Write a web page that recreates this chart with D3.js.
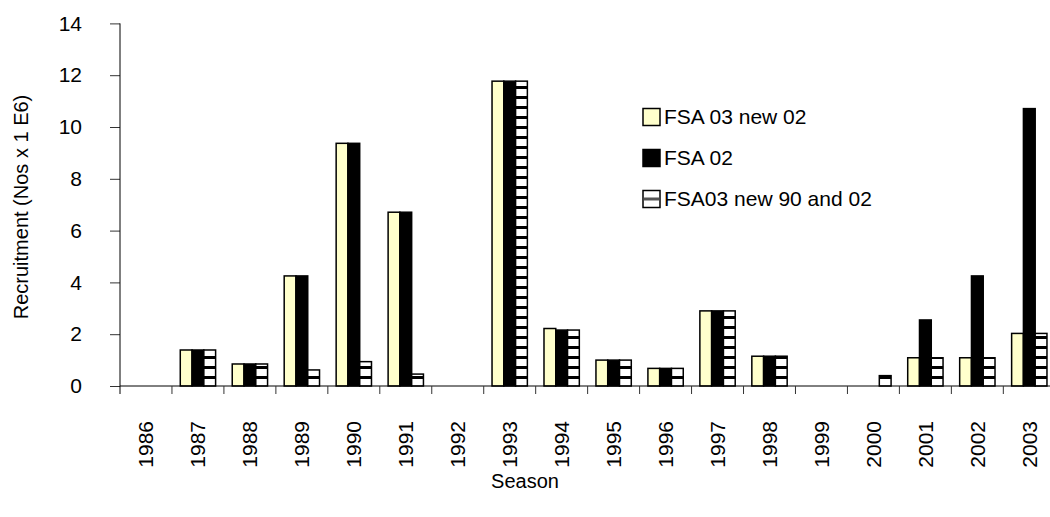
<!DOCTYPE html>
<html>
<head>
<meta charset="utf-8">
<script src="https://cdn.jsdelivr.net/npm/d3@7/dist/d3.min.js"></script>
<style>
  body { margin: 0; background: #fff; }
  text { font-family: "Liberation Sans", Arial, sans-serif; fill: #000; }
</style>
</head>
<body>
<script>
var seasons = ['1986', '1987', '1988', '1989', '1990', '1991', '1992', '1993', '1994',
  '1995', '1996', '1997', '1998', '1999', '2000', '2001', '2002', '2003']
var seriesNames = ['FSA 03 new 02', 'FSA 02', 'FSA03 new 90 and 02']
var fsa03new02 = [0, 1.39, 0.85, 4.25, 9.37, 6.71, 0, 11.77, 2.22, 1.0, 0.68, 2.9, 1.15, 0, 0, 1.09, 1.09, 2.03]
var fsa02 = [0, 1.39, 0.85, 4.25, 9.37, 6.71, 0, 11.77, 2.16, 1.0, 0.68, 2.9, 1.15, 0, 0, 2.55, 4.25, 10.71]
var fsa03new9002 = [0, 1.39, 0.85, 0.62, 0.94, 0.46, 0, 11.77, 2.16, 1.0, 0.68, 2.9, 1.15, 0, 0.40, 1.09, 1.09, 2.03]
var yTicks = [0, 2, 4, 6, 8, 10, 12, 14]

var width = 1050
var height = 517
var plotLeft = 120
var plotBottom = 386
var plotTop = 23.4
var bandW = 51.96

var svg = d3.select('body').append('svg')
  .attr('width', width)
  .attr('height', height)

var defs = svg.append('defs')
var pat = defs.append('pattern')
  .attr('id', 'hstripe')
  .attr('patternUnits', 'userSpaceOnUse')
  .attr('width', 10).attr('height', 10)
  .attr('y', plotBottom)
pat.append('rect').attr('width', 10).attr('height', 10).attr('fill', '#fff')
pat.append('rect').attr('y', 0).attr('width', 10).attr('height', 3).attr('fill', '#000')

var fills = ['#ffffcc', '#000', 'url(#hstripe)']

var x = d3.scaleBand().domain(seasons).range([plotLeft, plotLeft + bandW * seasons.length])
var gap = bandW * 0.32
var x1 = d3.scaleBand().domain(d3.range(3)).range([gap / 2, bandW - gap / 2])
var y = d3.scaleLinear().domain([0, 14]).range([plotBottom, plotTop])

var data = seasons.map(function (s, i) {
  return {season: s, vals: [fsa03new02[i], fsa02[i], fsa03new9002[i]]}
})

// bars
var groups = svg.selectAll('g.grp')
  .data(data)
  .enter().append('g')
  .attr('class', 'grp')
  .attr('transform', d => `translate(${x(d.season)},0)`)

groups.selectAll('rect')
  .data(d => d.vals.map((v, k) => ({v: v, k: k})).filter(e => e.v > 0))
  .enter().append('rect')
  .attr('x', d => x1(d.k))
  .attr('width', x1.bandwidth())
  .attr('y', d => y(d.v))
  .attr('height', d => plotBottom - y(d.v))
  .attr('fill', d => fills[d.k])
  .attr('stroke', '#000')
  .attr('stroke-width', 1.5)

// y axis
var yAxis = svg.append('g')
  .attr('transform', `translate(${plotLeft},0)`)
  .call(d3.axisLeft(y).tickValues(yTicks).tickSize(10).tickPadding(28).tickFormat(d3.format('d')))
yAxis.select('.domain').remove()
yAxis.selectAll('line').attr('stroke', '#333')
yAxis.selectAll('text').style('font-size', '21px').attr('font-family', null)
svg.append('line')
  .attr('x1', plotLeft).attr('x2', plotLeft)
  .attr('y1', plotTop).attr('y2', plotBottom + 8)
  .attr('stroke', '#000')

// x axis
svg.append('line')
  .attr('x1', plotLeft).attr('x2', width)
  .attr('y1', plotBottom).attr('y2', plotBottom)
  .attr('stroke', '#000')
svg.selectAll('line.xt')
  .data(seasons.slice(1))
  .enter().append('line')
  .attr('class', 'xt')
  .attr('x1', d => x(d)).attr('x2', d => x(d))
  .attr('y1', plotBottom).attr('y2', plotBottom + 8)
  .attr('stroke', '#333')

svg.selectAll('text.xl')
  .data(seasons)
  .enter().append('text')
  .attr('class', 'xl')
  .attr('transform', d => `translate(${x(d) + bandW / 2},421) rotate(-90)`)
  .attr('text-anchor', 'end')
  .attr('dy', '0.35em')
  .style('font-size', '21px')
  .text(d => d)

// titles
svg.append('text')
  .attr('x', 525).attr('y', 488)
  .attr('text-anchor', 'middle')
  .style('font-size', '20px')
  .text('Season')

svg.append('text')
  .attr('transform', 'translate(28,207) rotate(-90)')
  .attr('text-anchor', 'middle')
  .style('font-size', '20px')
  .text('Recruitment (Nos x 1 E6)')

// legend
var legend = svg.selectAll('g.leg')
  .data(seriesNames)
  .enter().append('g')
  .attr('class', 'leg')
  .attr('transform', (d, i) => `translate(643,${117 + i * 41})`)
legend.append('rect')
  .attr('x', 0).attr('y', -8.5)
  .attr('width', 17).attr('height', 17)
  .attr('fill', (d, i) => i === 2 ? '#fff' : fills[i])
  .attr('stroke', '#000')
  .attr('stroke-width', 1.5)
legend.filter((d, i) => i === 2).append('rect')
  .attr('x', 0.75).attr('y', -1.5)
  .attr('width', 15.5).attr('height', 3)
  .attr('fill', '#555')
legend.append('text')
  .attr('x', 21).attr('y', 0)
  .attr('dy', '0.35em')
  .style('font-size', '21px')
  .text(d => d)
</script>
</body>
</html>
